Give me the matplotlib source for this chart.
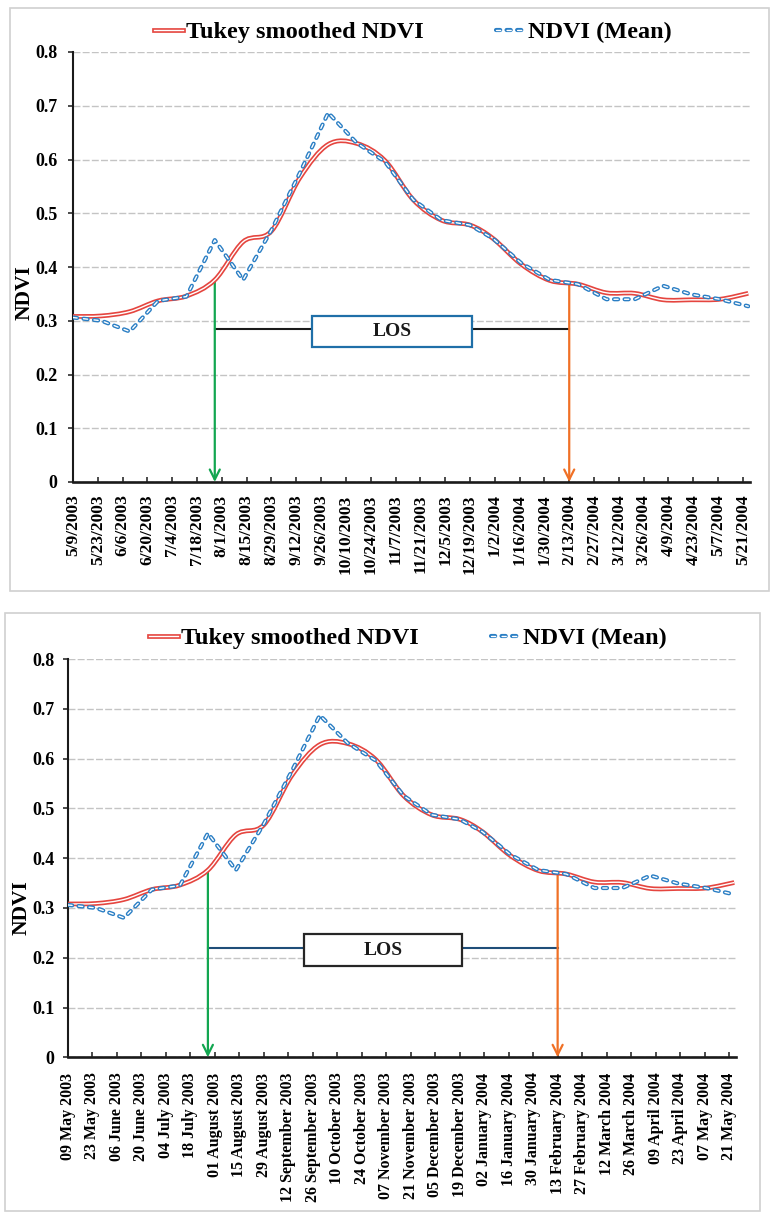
import matplotlib
matplotlib.use("Agg")
import matplotlib.pyplot as plt
import matplotlib.dates as mdates
import matplotlib.patheffects as pe
from matplotlib.path import Path
from matplotlib.patches import PathPatch, Rectangle
from matplotlib.lines import Line2D
import numpy as np
import pandas as pd

# 16-day composite dates and NDVI values
composite_dates = [
    "2003-05-09", "2003-05-25", "2003-06-10", "2003-06-26", "2003-07-12",
    "2003-07-28", "2003-08-13", "2003-08-29", "2003-09-14", "2003-09-30",
    "2003-10-16", "2003-11-01", "2003-11-17", "2003-12-03", "2003-12-19",
    "2004-01-01", "2004-01-17", "2004-02-02", "2004-02-18", "2004-03-05",
    "2004-03-21", "2004-04-06", "2004-04-22", "2004-05-08", "2004-05-24",
]
ndvi_mean = [
    0.306, 0.300, 0.280, 0.337, 0.345, 0.450, 0.376, 0.469, 0.575, 0.687,
    0.631, 0.596, 0.525, 0.487, 0.478, 0.453, 0.407, 0.376, 0.368, 0.340,
    0.340, 0.365, 0.349, 0.340, 0.327,
]
ndvi_tukey = [
    0.308, 0.309, 0.317, 0.337, 0.346, 0.376, 0.447, 0.467, 0.566, 0.628,
    0.630, 0.598, 0.525, 0.487, 0.478, 0.453, 0.405, 0.375, 0.368, 0.352,
    0.351, 0.339, 0.339, 0.340, 0.351,
]

# season markers
sos_date = "2003-07-28"
eos_date = "2004-02-13"
sos_ndvi = 0.376
eos_ndvi = 0.369
los_level_top = 0.284
los_level_bottom = 0.219

tick_labels_top = [
    "5/9/2003", "5/23/2003", "6/6/2003", "6/20/2003", "7/4/2003", "7/18/2003",
    "8/1/2003", "8/15/2003", "8/29/2003", "9/12/2003", "9/26/2003", "10/10/2003",
    "10/24/2003", "11/7/2003", "11/21/2003", "12/5/2003", "12/19/2003", "1/2/2004",
    "1/16/2004", "1/30/2004", "2/13/2004", "2/27/2004", "3/12/2004", "3/26/2004",
    "4/9/2004", "4/23/2004", "5/7/2004", "5/21/2004",
]
tick_labels_bottom = [
    "09 May 2003", "23 May 2003", "06 June 2003", "20 June 2003", "04 July 2003",
    "18 July 2003", "01 August 2003", "15 August 2003", "29 August 2003",
    "12 September 2003", "26 September 2003", "10 October 2003", "24 October 2003",
    "07 November 2003", "21 November 2003", "05 December 2003", "19 December 2003",
    "02 January 2004", "16 January 2004", "30 January 2004", "13 February 2004",
    "27 February 2004", "12 March 2004", "26 March 2004", "09 April 2004",
    "23 April 2004", "07 May 2004", "21 May 2004",
]
y_ticks = [0, 0.1, 0.2, 0.3, 0.4, 0.5, 0.6, 0.7, 0.8]
y_tick_labels = ["0", "0.1", "0.2", "0.3", "0.4", "0.5", "0.6", "0.7", "0.8"]

plt.rcParams["font.family"] = ["Liberation Serif", "DejaVu Serif"]
plt.rcParams["font.weight"] = "bold"
plt.rcParams["lines.scale_dashes"] = False

RED = "#e5453f"
BLUE = "#2a7ec4"
GREEN = "#12a650"
ORANGE = "#f07025"
W, H = 772, 1214

x_data = mdates.date2num(pd.to_datetime(composite_dates))
tick_dates = pd.date_range("2003-05-09", periods=len(tick_labels_top), freq="14D")
x_ticks = mdates.date2num(tick_dates)
x_start = mdates.date2num(pd.Timestamp("2003-05-09"))
x_end = x_start + 382
x_sos = mdates.date2num(pd.Timestamp(sos_date))
x_eos = mdates.date2num(pd.Timestamp(eos_date))


def smooth_path(x, y):
    """Bezier path through every point, with Catmull-Rom style control points."""
    pts = np.column_stack([np.asarray(x, float), np.asarray(y, float)])
    n = len(pts)
    verts = [pts[0]]
    codes = [Path.MOVETO]
    for i in range(n - 1):
        p0 = pts[i - 1] if i > 0 else pts[i]
        p1, p2 = pts[i], pts[i + 1]
        p3 = pts[i + 2] if i + 2 < n else pts[i + 1]
        verts += [p1 + (p2 - p0) / 6.0, p2 - (p3 - p1) / 6.0, p2]
        codes += [Path.CURVE4] * 3
    return Path(verts, codes)


red_fx = [pe.Stroke(linewidth=3.4, foreground=RED), pe.Normal()]
blue_fx = [pe.Stroke(linewidth=3.0, foreground=BLUE), pe.Normal()]
blue_dash = (3.0, 4.6)


def panel(ax, labels, xlabel_size, xpad, ypad, los_level, los_color, box_y, box_edge,
          ylab_pos, legend_xy):
    ax.set_xlim(x_start, x_end)
    ax.set_ylim(0, 0.8)
    for s in ("top", "right"):
        ax.spines[s].set_visible(False)
    ax.spines["left"].set_linewidth(1.5)
    ax.spines["bottom"].set_linewidth(1.9)
    ax.spines["left"].set_color("#1a1a1a")
    ax.spines["bottom"].set_color("#1a1a1a")

    ax.set_yticks(y_ticks)
    ax.set_yticklabels(y_tick_labels)
    ax.set_xticks(x_ticks)
    ax.set_xticklabels(labels, rotation=90)
    ax.tick_params(axis="y", direction="out", length=3.4, width=1.1,
                   labelsize=13, pad=ypad, color="#1a1a1a")
    ax.tick_params(axis="x", direction="in", length=3.6, width=1.1,
                   labelsize=xlabel_size, pad=xpad, color="#1a1a1a")
    ax.yaxis.grid(True, color="#c4c4c4", lw=1.0, linestyle=(0, (5, 1.6)))
    ax.set_axisbelow(True)

    ax.text(ylab_pos[0], ylab_pos[1], "NDVI", transform=ax.transAxes, rotation=90,
            ha="center", va="center", fontsize=15.5, fontweight="bold")

    # length of season bar
    ax.plot([x_sos, x_eos], [los_level, los_level], color=los_color, lw=1.5, zorder=2)
    bx0 = x_start + 135
    bx1 = x_start + 225.3
    ax.add_patch(Rectangle((bx0, box_y[0]), bx1 - bx0, box_y[1] - box_y[0],
                           facecolor="white", edgecolor=box_edge, lw=1.6, zorder=3))
    ax.text((bx0 + bx1) / 2, (box_y[0] + box_y[1]) / 2, "LOS", ha="center", va="center",
            fontsize=14, fontweight="bold", color="#1a1a1a", zorder=4)

    # start and end of season arrows
    for xv, yv, col in ((x_sos, sos_ndvi, GREEN), (x_eos, eos_ndvi, ORANGE)):
        ax.annotate("", xy=(xv, 0), xytext=(xv, yv), zorder=3,
                    arrowprops=dict(arrowstyle="->,head_length=0.6,head_width=0.3",
                                    color=col, lw=1.6, shrinkA=0, shrinkB=0,
                                    mutation_scale=12))

    # smoothed series
    ax.add_patch(PathPatch(smooth_path(x_data, ndvi_tukey), fill=False,
                           edgecolor="white", lw=1.0, path_effects=red_fx, zorder=5))
    # composite mean series
    ax.plot(x_data, ndvi_mean, color="white", lw=1.0, dashes=blue_dash,
            dash_capstyle="round", path_effects=blue_fx, zorder=6)

    handles = [
        Line2D([], [], color="white", lw=1.0, path_effects=red_fx),
        Line2D([], [], color="white", lw=1.0, dashes=blue_dash, dash_capstyle="round",
               path_effects=blue_fx),
    ]
    ax.figure.legend(handles, ["Tukey smoothed NDVI", "NDVI (Mean)"], loc="center",
                     bbox_to_anchor=legend_xy, ncol=2, frameon=False,
                     prop=dict(size=17.5, weight="bold"), handlelength=1.2,
                     handletextpad=0.1, columnspacing=3.0)


fig = plt.figure(figsize=(W / 100, H / 100), dpi=100)

# panel frames
for (x0, y0, x1, y1) in ((10, 8, 769, 591), (5, 613, 760, 1211)):
    fig.add_artist(Rectangle((x0 / W, 1 - y1 / H), (x1 - x0) / W, (y1 - y0) / H,
                             transform=fig.transFigure, fill=False,
                             edgecolor="#d0d0d0", lw=1.2))

ax1 = fig.add_axes([73 / W, 1 - 482 / H, 677 / W, 430 / H])
panel(ax1, tick_labels_top, 12.5, 9.0, 8.0, los_level_top, "#1a1a1a",
      (0.251, 0.309), "#1f6fa8", (-0.071, 0.44), (413 / W, 1 - 32 / H))

ax2 = fig.add_axes([68 / W, 1 - 1057.3 / H, 668 / W, 398.3 / H])
panel(ax2, tick_labels_bottom, 11.5, 11.0, 6.5, los_level_bottom, "#1f4e79",
      (0.183, 0.2476), "#262626", (-0.070, 0.375), (408 / W, 1 - 638 / H))

fig.savefig("out.png", dpi=100)
